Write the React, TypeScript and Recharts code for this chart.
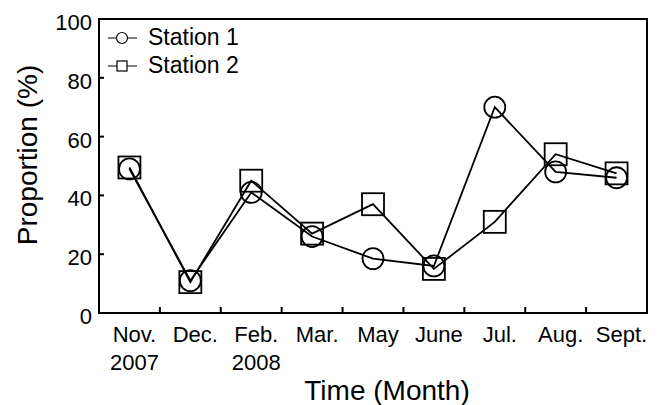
import React from 'react';
import {
  LineChart,
  Line,
  XAxis,
  YAxis,
  ReferenceArea,
  Legend,
  Label
} from 'recharts';

const months = ['Nov.', 'Dec.', 'Feb.', 'Mar.', 'May', 'June', 'Jul.', 'Aug.', 'Sept.'];
const years = ['2007', '', '2008', '', '', '', '', '', ''];
const station1 = [49, 11, 41, 26, 18.5, 16, 70, 48, 46];
const station2 = [49.5, 10.5, 45, 27, 37, 15, 31, 54, 47.5];
const yTicks = [0, 20, 40, 60, 80, 100];

const FONT = '"Liberation Sans", Arial, sans-serif';

const data = months.map((m, i) => ({
  idx: i + 1,
  month: m,
  s1: station1[i],
  s2: station2[i]
}));

// category ticks at 1..9, small tick marks half way between them
const xTicks: number[] = [];
months.forEach((_, i) => {
  xTicks.push(i + 1);
  if (i < months.length - 1) xTicks.push(i + 1.5);
});

const XTick = (props: any) => {
  const { x, y, payload } = props;
  const v = payload.value;
  if (!Number.isInteger(v)) {
    return <line x1={x} x2={x} y1={y} y2={y - 6} stroke="#000" strokeWidth={2} />;
  }
  const i = v - 1;
  return (
    <g>
      <text x={x + 5} y={y + 29} textAnchor="middle" fontSize={22} fontFamily={FONT} fill="#000">
        {months[i]}
      </text>
      {years[i] && (
        <text x={x + 5} y={y + 57} textAnchor="middle" fontSize={22} fontFamily={FONT} fill="#000">
          {years[i]}
        </text>
      )}
    </g>
  );
};

const YTick = (props: any) => {
  const { x, y, payload } = props;
  return (
    <g>
      <line x1={x} x2={x + 5} y1={y} y2={y} stroke="#000" strokeWidth={2} />
      <text x={x - 7} y={y + 11} textAnchor="end" fontSize={22} fontFamily={FONT} fill="#000">
        {payload.value}
      </text>
    </g>
  );
};

const CircleDot = (props: any) => {
  const { cx, cy, index } = props;
  return <circle key={`c${index}`} cx={cx} cy={cy} r={10.5} fill="none" stroke="#000" strokeWidth={1.8} />;
};

const SquareDot = (props: any) => {
  const { cx, cy, index } = props;
  return (
    <rect key={`s${index}`} x={cx - 11} y={cy - 11} width={22} height={22} fill="none" stroke="#000" strokeWidth={1.8} />
  );
};

const LegendBox = (props: any) => {
  const { payload } = props;
  return (
    <div style={{ fontFamily: FONT, fontSize: 23, lineHeight: '28px', color: '#000' }}>
      {(payload || []).map((entry: any) => (
        <div key={entry.dataKey} style={{ display: 'flex', height: 28 }}>
          <svg width={40} height={28} style={{ display: 'block' }}>
            <line x1={3} x2={32} y1={15} y2={15} stroke="#000" strokeWidth={1} />
            {entry.dataKey === 's1' ? (
              <circle cx={17} cy={15} r={5.5} fill="#fff" stroke="#000" strokeWidth={1.2} />
            ) : (
              <rect x={12} y={10} width={10} height={10} fill="#fff" stroke="#000" strokeWidth={1.2} />
            )}
          </svg>
          <span style={{ marginLeft: 3 }}>{entry.value}</span>
        </div>
      ))}
    </div>
  );
};

const XTitle = (props: any) => {
  const vb = props.viewBox || { x: 99, y: 313, width: 548, height: 92 };
  return (
    <text x={vb.x + vb.width / 2 + 14} y={vb.y + 87} textAnchor="middle" fontSize={28} fontFamily={FONT} fill="#000">
      Time (Month)
    </text>
  );
};

const YTitle = (props: any) => {
  const vb = props.viewBox || { x: 0, y: 19, width: 99, height: 294 };
  const cx = vb.x + 37;
  const cy = vb.y + vb.height / 2 - 11;
  return (
    <text x={cx} y={cy} transform={`rotate(-90, ${cx}, ${cy})`} textAnchor="middle" fontSize={28} fontFamily={FONT} fill="#000">
      Proportion (%)
    </text>
  );
};

export default function App() {
  return (
    <div style={{ position: 'absolute', left: 0, top: 0, width: 669, height: 405, background: '#fff' }}>
      <LineChart width={669} height={405} data={data} margin={{ top: 19, right: 22, bottom: 0, left: 0 }}>
        <XAxis
          type="number"
          dataKey="idx"
          domain={[0.5, 9.5]}
          ticks={xTicks}
          interval={0}
          allowDecimals
          height={92}
          tickSize={0}
          tickMargin={0}
          tickLine={false}
          axisLine={{ stroke: '#000', strokeWidth: 2 }}
          tick={<XTick />}
        >
          <Label content={<XTitle />} />
        </XAxis>
        <YAxis
          type="number"
          domain={[0, 100]}
          ticks={yTicks}
          interval={0}
          width={99}
          tickSize={0}
          tickMargin={0}
          tickLine={false}
          axisLine={{ stroke: '#000', strokeWidth: 2 }}
          tick={<YTick />}
        >
          <Label content={<YTitle />} />
        </YAxis>
        <ReferenceArea x1={0.5} x2={9.5} y1={0} y2={100} fill="none" stroke="#000" strokeWidth={2} />
        <Legend
          layout="vertical"
          align="center"
          verticalAlign="middle"
          content={<LegendBox />}
          wrapperStyle={{ left: 105, top: 23, width: 200 }}
        />
        <Line
          dataKey="s1"
          name="Station 1"
          stroke="#000"
          strokeWidth={1.8}
          dot={<CircleDot />}
          activeDot={false}
          isAnimationActive={false}
        />
        <Line
          dataKey="s2"
          name="Station 2"
          stroke="#000"
          strokeWidth={1.8}
          dot={<SquareDot />}
          activeDot={false}
          isAnimationActive={false}
        />
      </LineChart>
    </div>
  );
}
